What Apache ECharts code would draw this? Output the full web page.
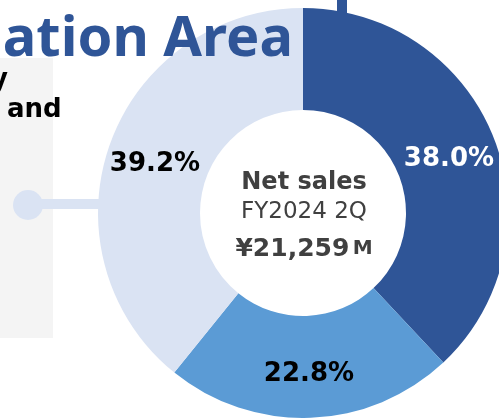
<!DOCTYPE html>
<html>
<head>
<meta charset="utf-8">
<script src="https://cdn.jsdelivr.net/npm/echarts@6/dist/echarts.min.js"></script>
<style>
  html, body { margin: 0; padding: 0; background: #fff; }
  #chart { width: 499px; height: 418px; }
</style>
</head>
<body>
<div id="chart"></div>
<script>
// segment shares (%), clockwise from 12 o'clock
const segments = ["Segment 1", "Segment 2", "Segment 3"];
const shares = [38.0, 22.8, 39.2];
const segColors = ["#2F5597", "#5B9BD5", "#DAE3F3"];
const labelColors = ["#FFFFFF", "#000000", "#000000"];

const centerTitle = "Net sales";
const centerPeriod = "FY2024 2Q";
const centerAmount = "¥21,259";
const centerUnit = "M";

const chart = echarts.init(document.getElementById("chart"));

const pieData = segments.map((name, i) => ({
  name: name,
  value: shares[i],
  itemStyle: { color: segColors[i] },
  label: { color: labelColors[i] },
}));

const option = {
  backgroundColor: "#ffffff",
  animation: false,
  graphic: [
    // grey panel on the left
    { type: "rect", z: 0, shape: { x: 0, y: 58, width: 53, height: 280 }, style: { fill: "#F4F4F4" } },
    // small bar above the ring
    { type: "rect", z: 0, shape: { x: 337, y: 0, width: 10, height: 14 }, style: { fill: "#2F5597" } },
    // connector
    { type: "line", z: 5, shape: { x1: 28, y1: 204, x2: 100, y2: 204 }, style: { stroke: "#DAE3F3", lineWidth: 10 } },
    { type: "circle", z: 5, shape: { cx: 28, cy: 205, r: 15 }, style: { fill: "#DAE3F3" } },
    // cut-off heading text
    {
      type: "text", z: 10, x: 293, y: 40,
      style: { text: "ation Area", fill: "#2F5597", font: "bold 56px 'Noto Sans'", align: "right", verticalAlign: "middle" },
    },
    {
      type: "text", z: 10, x: -9, y: 80,
      style: { text: "y", fill: "#000", font: "bold 26px 'DejaVu Sans'", align: "left", verticalAlign: "middle" },
    },
    {
      type: "text", z: 10, x: 7, y: 110,
      style: { text: "and", fill: "#000", font: "bold 26px 'DejaVu Sans'", align: "left", verticalAlign: "middle" },
    },
    // centre text
    {
      type: "text", z: 10, x: 304, y: 183,
      style: { text: centerTitle, fill: "#404040", font: "bold 24px 'DejaVu Sans'", align: "center", verticalAlign: "middle" },
    },
    {
      type: "text", z: 10, x: 304, y: 212,
      style: { text: centerPeriod, fill: "#404040", font: "23px 'DejaVu Sans'", align: "center", verticalAlign: "middle" },
    },
    {
      type: "text", z: 10, x: 304, y: 249,
      style: {
        text: "{a|" + centerAmount + "} {b|" + centerUnit + "}",
        fill: "#404040",
        align: "center", verticalAlign: "middle",
        rich: {
          a: { fill: "#404040", fontSize: 25, fontWeight: "bold", fontFamily: "DejaVu Sans" },
          b: { fill: "#404040", fontSize: 20, fontWeight: "bold", fontFamily: "DejaVu Sans" },
        },
      },
    },
  ],
  series: [
    {
      type: "pie",
      center: [303, 213],
      radius: [103, 205],
      startAngle: 90,
      clockwise: true,
      silent: true,
      avoidLabelOverlap: false,
      z: 2,
      label: {
        show: true,
        position: "inside",
        fontFamily: "DejaVu Sans",
        fontWeight: "bold",
        fontSize: 26,
        offset: [0, 4],
        formatter: p => p.value.toFixed(1) + "%",
      },
      labelLine: { show: false },
      itemStyle: { borderWidth: 0 },
      emphasis: { disabled: true },
      data: pieData,
    },
  ],
};

chart.setOption(option);
</script>
</body>
</html>
